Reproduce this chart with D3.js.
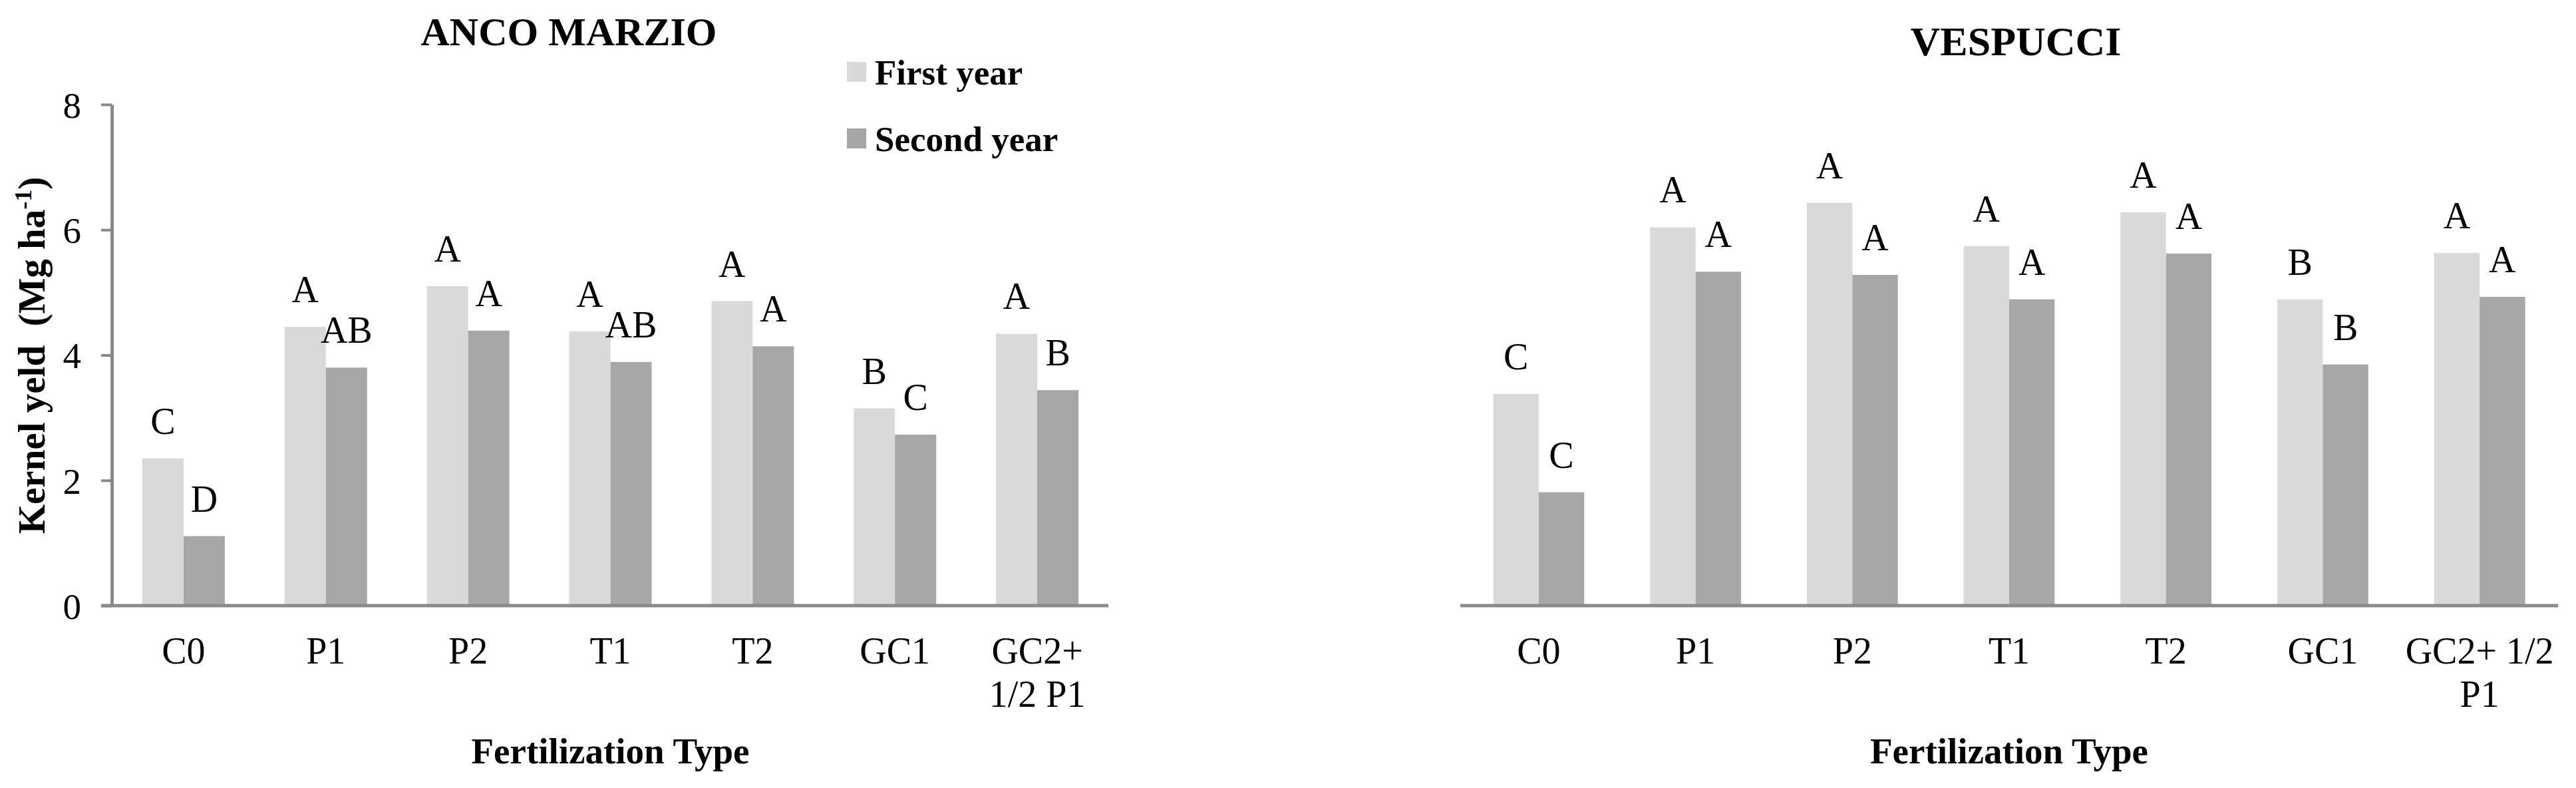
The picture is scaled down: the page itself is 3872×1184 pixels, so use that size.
<!DOCTYPE html>
<html>
<head>
<meta charset="utf-8">
<script src="https://cdn.jsdelivr.net/npm/d3@7"></script>
<style>
  html, body { margin: 0; padding: 0; background: #ffffff; }
  svg text { font-family: "Liberation Serif", "Times New Roman", serif; fill: #000; }
</style>
</head>
<body>
<svg id="chart" width="3872" height="1184"></svg>
<script>
// ---------- DATA ----------
const categories = ["C0", "P1", "P2", "T1", "T2", "GC1", "GC2+ 1/2 P1"];
const leftTickLines = [["C0"], ["P1"], ["P2"], ["T1"], ["T2"], ["GC1"], ["GC2+", "1/2 P1"]];
const rightTickLines = [["C0"], ["P1"], ["P2"], ["T1"], ["T2"], ["GC1"], ["GC2+ 1/2", "P1"]];
const seriesNames = ["First year", "Second year"];
const yTicks = [0, 2, 4, 6, 8];

const ancoFirst  = [2.35, 4.45, 5.10, 4.38, 4.86, 3.15, 4.34];
const ancoSecond = [1.11, 3.80, 4.39, 3.89, 4.14, 2.73, 3.44];
const ancoFirstLetters  = ["C", "A", "A", "A", "A", "B", "A"];
const ancoSecondLetters = ["D", "AB", "A", "AB", "A", "C", "B"];

const vespFirst  = [3.38, 6.04, 6.43, 5.74, 6.28, 4.89, 5.63];
const vespSecond = [1.81, 5.33, 5.28, 4.89, 5.62, 3.85, 4.93];
const vespFirstLetters  = ["C", "A", "A", "A", "A", "B", "A"];
const vespSecondLetters = ["C", "A", "A", "A", "A", "B", "A"];

// ---------- STYLE ----------
const colors = ["#d9d9d9", "#a6a6a6"];
const axisColor = "#898989";

const svg = d3.select("#chart");

const y = d3.scaleLinear().domain([0, 8]).range([910, 157]);

function panel(opts) {
  const g = svg.append("g");
  const x0 = d3.scaleBand().domain(categories).range(opts.range)
    .paddingInner(0.42).paddingOuter(0.21);
  const x1 = d3.scaleBand().domain(seriesNames).range([0, x0.bandwidth()]);

  const rows = categories.map((c, i) => ({
    cat: c,
    vals: [
      { s: seriesNames[0], v: opts.first[i], lab: opts.firstLetters[i], c: colors[0] },
      { s: seriesNames[1], v: opts.second[i], lab: opts.secondLetters[i], c: colors[1] }
    ]
  }));

  const groups = g.selectAll("g.grp").data(rows).join("g")
    .attr("class", "grp")
    .attr("transform", d => `translate(${x0(d.cat)},0)`);

  groups.selectAll("rect").data(d => d.vals).join("rect")
    .attr("x", d => x1(d.s))
    .attr("width", x1.bandwidth())
    .attr("y", d => y(d.v))
    .attr("height", d => y(0) - y(d.v))
    .attr("fill", d => d.c);

  groups.selectAll("text.sig").data(d => d.vals).join("text")
    .attr("class", "sig")
    .attr("x", d => x1(d.s) + x1.bandwidth() / 2)
    .attr("y", d => y(d.v) - 37)
    .attr("text-anchor", "middle")
    .style("font-size", "56px")
    .text(d => d.lab);

  // x axis
  const xAxis = g.append("g")
    .attr("transform", `translate(0,${y(0)})`)
    .call(d3.axisBottom(x0).tickSize(0).tickSizeOuter(0));
  xAxis.select(".domain").remove();
  xAxis.append("line")
    .attr("x1", opts.axisStart).attr("x2", opts.range[1])
    .attr("y1", 0).attr("y2", 0)
    .attr("stroke", axisColor).attr("stroke-width", 5);
  xAxis.selectAll(".tick text").each(function(d, i) {
    const t = d3.select(this);
    t.text(null).attr("y", 87).attr("dy", null)
      .style("font-size", "56px").attr("fill", "#000");
    opts.tickLines[i].forEach((line, k) => {
      t.append("tspan").attr("x", 0).attr("dy", k === 0 ? 0 : 65).text(line);
    });
  });

  // x axis title
  g.append("text")
    .attr("x", (opts.range[0] + opts.range[1]) / 2)
    .attr("y", 1147)
    .attr("text-anchor", "middle")
    .style("font-size", "55px").style("font-weight", "bold")
    .text("Fertilization Type");

  // title
  g.append("text")
    .attr("x", opts.titleX).attr("y", opts.titleY)
    .attr("text-anchor", "middle")
    .style("font-size", opts.titleSize + "px").style("font-weight", "bold")
    .text(opts.title);

  return { g, x0 };
}

// ---------- LEFT PANEL ----------
panel({
  range: [169, 1666], axisStart: 152,
  first: ancoFirst, second: ancoSecond,
  firstLetters: ancoFirstLetters, secondLetters: ancoSecondLetters,
  tickLines: leftTickLines,
  title: "ANCO MARZIO", titleX: 855, titleY: 68, titleSize: 60
});

// y axis (left panel only)
const yAxis = svg.append("g")
  .attr("transform", "translate(168,0)")
  .call(d3.axisLeft(y).tickValues(yTicks).tickFormat(d3.format("d"))
    .tickSize(16).tickSizeOuter(0).tickPadding(30));
yAxis.select(".domain").attr("stroke", axisColor).attr("stroke-width", 5);
yAxis.selectAll(".tick line").attr("stroke", axisColor).attr("stroke-width", 4);
yAxis.selectAll(".tick text").style("font-size", "55px").attr("fill", "#000")
  .attr("dy", "0.35em");

svg.append("text")
  .attr("transform", "translate(67,534) rotate(-90)")
  .attr("text-anchor", "middle")
  .style("font-size", "57px").style("font-weight", "bold")
  .style("white-space", "pre")
  .call(t => {
    t.append("tspan").text("Kernel yeld  (Mg ha");
    t.append("tspan").attr("baseline-shift", "super").style("font-size", "36px").text("-1");
    t.append("tspan").text(")");
  });

// legend
const legend = svg.append("g").attr("transform", "translate(1273,93)");
seriesNames.forEach((name, i) => {
  const row = legend.append("g").attr("transform", `translate(0,${i * 100})`);
  row.append("rect").attr("width", 29).attr("height", 30).attr("fill", colors[i]);
  row.append("text").attr("x", 42).attr("y", 34)
    .style("font-size", "53px").style("font-weight", "bold").text(name);
});

// ---------- RIGHT PANEL ----------
panel({
  range: [2195, 3845], axisStart: 2195,
  first: vespFirst, second: vespSecond,
  firstLetters: vespFirstLetters, secondLetters: vespSecondLetters,
  tickLines: rightTickLines,
  title: "VESPUCCI", titleX: 3030, titleY: 83, titleSize: 62
});
</script>
</body>
</html>
